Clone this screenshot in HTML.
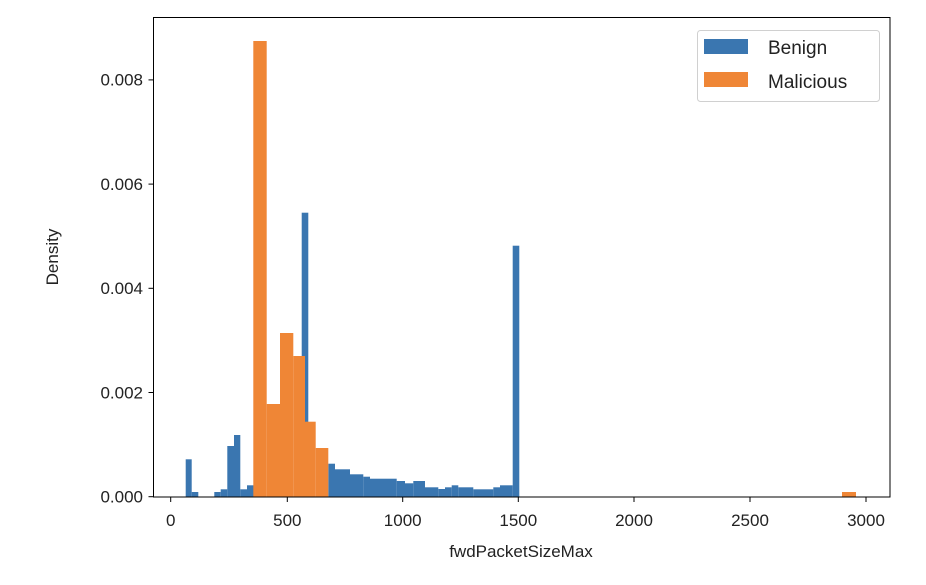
<!DOCTYPE html>
<html><head><style>body{margin:0;background:#fff}</style></head><body>
<svg width="926" height="580" xmlns="http://www.w3.org/2000/svg" font-family="Liberation Sans, DejaVu Sans, sans-serif">
<rect width="926" height="580" fill="#fff"/>
<g fill="#3a76b0">
<rect x="185.7" y="459.3" width="6" height="37.4"/>
<rect x="191.7" y="492" width="6.6" height="4.7"/>
<rect x="214.3" y="492" width="6.4" height="4.7"/>
<rect x="220.7" y="489.3" width="6.6" height="7.4"/>
<rect x="227.3" y="446" width="6.7" height="50.7"/>
<rect x="234" y="435" width="6.3" height="61.7"/>
<rect x="240.3" y="489.3" width="6.7" height="7.4"/>
<rect x="247" y="485.3" width="7" height="11.4"/>
<rect x="301.7" y="212.7" width="6.6" height="284"/>
<rect x="328.3" y="463.7" width="6.7" height="33"/>
<rect x="335" y="469.3" width="15" height="27.4"/>
<rect x="350" y="474.3" width="13.3" height="22.4"/>
<rect x="363.3" y="476.7" width="6.7" height="20"/>
<rect x="370" y="478.7" width="26.7" height="18"/>
<rect x="396.7" y="481" width="8.3" height="15.7"/>
<rect x="405" y="483.3" width="8.3" height="13.4"/>
<rect x="413.3" y="481" width="11.7" height="15.7"/>
<rect x="425" y="487.3" width="13.3" height="9.4"/>
<rect x="438.3" y="489" width="6.7" height="7.7"/>
<rect x="445" y="487.3" width="6.7" height="9.4"/>
<rect x="451.7" y="485.3" width="6.6" height="11.4"/>
<rect x="458.3" y="487.3" width="15" height="9.4"/>
<rect x="473.3" y="489.3" width="20" height="7.4"/>
<rect x="493.3" y="487.3" width="6.7" height="9.4"/>
<rect x="500" y="485.3" width="12.7" height="11.4"/>
<rect x="512.7" y="245.7" width="6.6" height="251"/>
</g>
<g fill="#ef8636">
<rect x="253.3" y="41" width="13.4" height="455.7"/>
<rect x="266.7" y="404" width="13.3" height="92.7"/>
<rect x="280" y="333" width="13.3" height="163.7"/>
<rect x="293.3" y="356" width="11.7" height="140.7"/>
<rect x="305" y="421.7" width="10.7" height="75"/>
<rect x="315.7" y="448" width="12.6" height="48.7"/>
<rect x="842" y="492" width="14" height="4.7"/>
</g>
<rect x="153.5" y="17.5" width="736.5" height="479.5" fill="none" stroke="#000" stroke-width="1"/>
<g stroke="#000" stroke-width="1">
<line x1="170.7" y1="497" x2="170.7" y2="502"/>
<line x1="287.3" y1="497" x2="287.3" y2="502"/>
<line x1="402.7" y1="497" x2="402.7" y2="502"/>
<line x1="518.3" y1="497" x2="518.3" y2="502"/>
<line x1="634" y1="497" x2="634" y2="502"/>
<line x1="750" y1="497" x2="750" y2="502"/>
<line x1="866" y1="497" x2="866" y2="502"/>
<line x1="148.5" y1="496.7" x2="153.5" y2="496.7"/>
<line x1="148.5" y1="392.5" x2="153.5" y2="392.5"/>
<line x1="148.5" y1="288.3" x2="153.5" y2="288.3"/>
<line x1="148.5" y1="184.1" x2="153.5" y2="184.1"/>
<line x1="148.5" y1="79.9" x2="153.5" y2="79.9"/>
</g>
<g font-size="17" fill="#222" text-anchor="middle">
<text x="170.7" y="526">0</text>
<text x="287.3" y="526">500</text>
<text x="402.7" y="526">1000</text>
<text x="518.3" y="526">1500</text>
<text x="634" y="526">2000</text>
<text x="750" y="526">2500</text>
<text x="866" y="526">3000</text>
<text x="521" y="557">fwdPacketSizeMax</text>
</g>
<g font-size="17" fill="#222" text-anchor="end">
<text x="143" y="502.5">0.000</text>
<text x="143" y="398.3">0.002</text>
<text x="143" y="294.1">0.004</text>
<text x="143" y="189.9">0.006</text>
<text x="143" y="85.7">0.008</text>
</g>
<text transform="translate(58,257) rotate(-90)" font-size="17" fill="#222" text-anchor="middle">Density</text>
<rect x="697.5" y="30.5" width="182" height="71" rx="3" fill="#fff" stroke="#d0d0d0"/>
<rect x="704" y="39" width="44" height="15" fill="#3a76b0"/>
<rect x="704" y="72" width="44" height="15" fill="#ef8636"/>
<text x="768" y="54" font-size="19" fill="#222">Benign</text>
<text x="768" y="88" font-size="19" fill="#222">Malicious</text>
</svg>
</body></html>
